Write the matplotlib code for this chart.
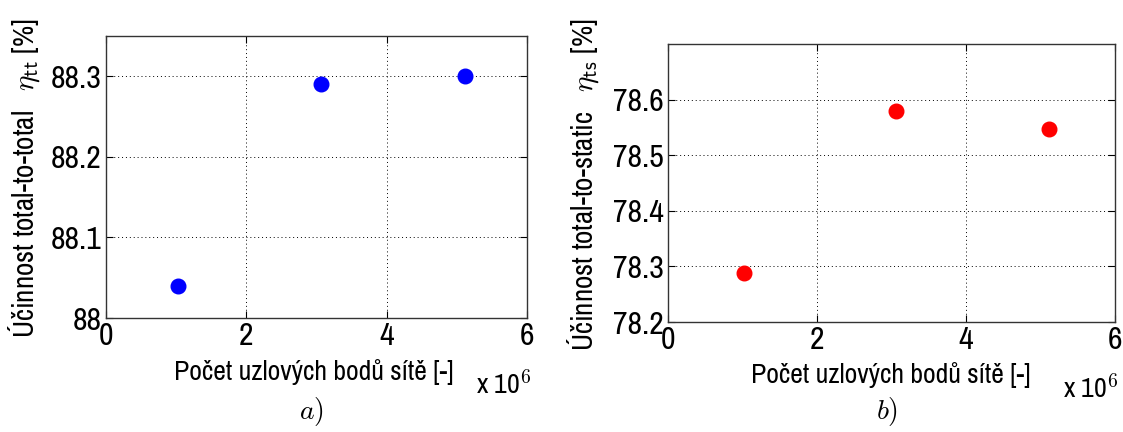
import matplotlib
matplotlib.use("Agg")
import matplotlib.pyplot as plt
from matplotlib.ticker import FuncFormatter

plt.rcParams["font.family"] = ["Archivo Narrow", "DejaVu Sans"]
plt.rcParams["mathtext.fontset"] = "cm"

# mesh sizes (number of nodes) and efficiencies
nodes = [1.02e6, 3.06e6, 5.11e6]
eta_tt = [88.04, 88.29, 88.30]
eta_ts = [78.289, 78.58, 78.548]

x_ticks = [0, 2e6, 4e6, 6e6]
tt_ticks = [88.0, 88.1, 88.2, 88.3]
ts_ticks = [78.2, 78.3, 78.4, 78.5, 78.6]

W, H = 1123, 432
fig = plt.figure(figsize=(W / 100, H / 100), dpi=100)


def px_axes(x0, y0, x1, y1):
    # axes box given in pixel coords (top-left origin)
    return fig.add_axes([x0 / W, 1 - y1 / H, (x1 - x0) / W, (y1 - y0) / H])


def style(ax, yticks, ylim):
    ax.set_xlim(0, 6e6)
    ax.set_ylim(*ylim)
    ax.set_xticks(x_ticks)
    ax.set_yticks(yticks)
    ax.xaxis.set_major_formatter(FuncFormatter(lambda v, p: "%g" % (v / 1e6)))
    ax.yaxis.set_major_formatter(FuncFormatter(lambda v, p: "%g" % round(v, 1)))
    ax.tick_params(direction="in", top=True, right=True, labelsize=23,
                   length=5, width=0.8, pad=3)
    ax.grid(True, color="black", linestyle=(0, (1, 3)), linewidth=0.7)
    for s in ax.spines.values():
        s.set_linewidth(1.0)
        s.set_color("#333333")


# a) total-to-total
ax1 = px_axes(106, 36, 527, 318)
ax1.plot(nodes, eta_tt, "o", color="blue", markersize=10.5, linestyle="none")
style(ax1, tt_ticks, (88.0, 88.35))
fig.text(314 / W, 1 - 372 / H, "Počet uzlových bodů sítě [-]", ha="center", va="center", fontsize=20)
fig.text(476 / W, 1 - 385 / H, r"x 10$^{6}$", ha="left", va="center", fontsize=20)
fig.text(24 / W, 1 - 178 / H, r"Účinnost total-to-total   $\eta_{\mathsf{tt}}$ [%]",
         rotation=90, ha="center", va="center", fontsize=21)
fig.text(311 / W, 1 - 412 / H, r"$a)$", ha="center", va="center", fontsize=20)

# b) total-to-static
ax2 = px_axes(668, 44, 1115, 322)
ax2.plot(nodes, eta_ts, "o", color="red", markersize=10.5, linestyle="none")
style(ax2, ts_ticks, (78.2, 78.7))
fig.text(891 / W, 1 - 375 / H, "Počet uzlových bodů sítě [-]", ha="center", va="center", fontsize=20)
fig.text(1063 / W, 1 - 389 / H, r"x 10$^{6}$", ha="left", va="center", fontsize=20)
fig.text(583 / W, 1 - 185 / H, r"Účinnost total-to-static   $\eta_{\mathsf{ts}}$ [%]",
         rotation=90, ha="center", va="center", fontsize=21)
fig.text(887 / W, 1 - 412 / H, r"$b)$", ha="center", va="center", fontsize=20)

fig.savefig("out.png", dpi=100, facecolor="white")
